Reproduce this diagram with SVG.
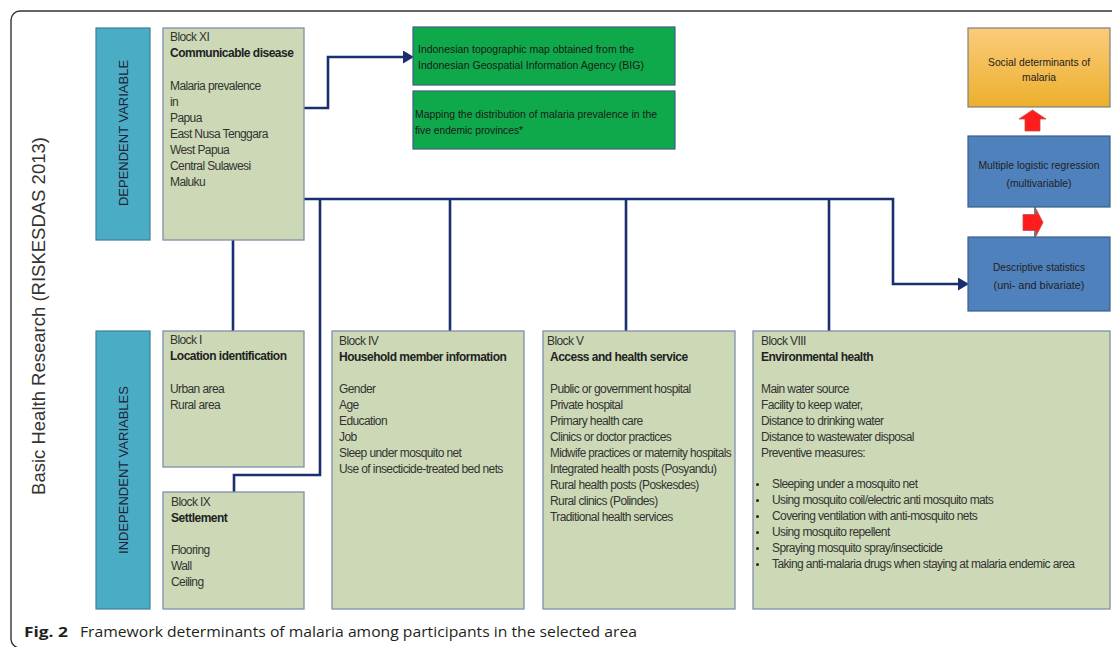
<svg xmlns="http://www.w3.org/2000/svg" width="1112" height="647" viewBox="0 0 1112 647">
<style>
.frame{fill:#fff;stroke:#333;stroke-width:1.4}
.side{fill:#4BACC6;stroke:#3B7F98;stroke-width:1.2}
.blk{fill:#CDD9B6;stroke:#7F8FAA;stroke-width:1.3}
.grn{fill:#0FA84B;stroke:#3C5F86;stroke-width:1.2}
.blu{fill:#4F81BD;stroke:#3A5F8C;stroke-width:1.2}
.org{fill:url(#og);stroke:#7F7F7F;stroke-width:1.2}
.con{fill:none;stroke:#1A2F6E;stroke-width:2.6;stroke-linejoin:miter}
.t{font-family:"Liberation Sans",Arial,sans-serif;font-size:12px;fill:#333;letter-spacing:-0.6px}
.b{font-family:"Liberation Sans",Arial,sans-serif;font-size:12px;font-weight:bold;fill:#222;letter-spacing:-0.5px}
.g{font-family:"Liberation Sans",Arial,sans-serif;font-size:11.5px;fill:#1a1a1a}
.c{font-family:"Liberation Sans",Arial,sans-serif;font-size:11px;fill:#222;text-anchor:middle}
.v{font-family:"Liberation Sans",Arial,sans-serif;font-size:13px;fill:#1E2438;text-anchor:middle}
.red{fill:#FF1C1C;stroke:#C0504D;stroke-width:0.8}
</style>
<defs>
<linearGradient id="og" x1="0" y1="0" x2="0" y2="1">
<stop offset="0" stop-color="#FBCB7C"/>
<stop offset="1" stop-color="#ECB02C"/>
</linearGradient>
<marker id="ah" viewBox="0 0 11 13" refX="2" refY="6.5" markerWidth="11" markerHeight="13" markerUnits="userSpaceOnUse" orient="auto">
<path d="M0,0 L11,6.5 L0,13 z" fill="#1A2F6E"/>
</marker>
</defs>

<rect class="frame" x="11" y="11" width="1130" height="637" rx="9"/>

<text x="45" y="316" transform="rotate(-90 45 316)" style="font-family:'Liberation Sans',Arial,sans-serif;font-size:18.5px;fill:#333;text-anchor:middle">Basic Health Research (RISKESDAS 2013)</text>

<g id="connectors">
<path class="con" d="M304,108 H328 V57 H405" marker-end="url(#ah)"/>
<path class="con" d="M304,199 H893 V284 H960" marker-end="url(#ah)"/>
<path class="con" d="M233,240 V331"/>
<path class="con" d="M320,199 V475 H234 V492"/>
<path class="con" d="M450,199 V331"/>
<path class="con" d="M626,199 V331"/>
<path class="con" d="M829,199 V331"/>
<path d="M1035,207 V237" fill="none" stroke="#7A7A7A" stroke-width="2"/>
</g>

<g id="dependent-variable">
<rect class="side" x="96" y="28" width="54" height="212"/>
<text class="v" x="128" y="133" transform="rotate(-90 128 133)">DEPENDENT VARIABLE</text>
</g>

<g id="independent-variables">
<rect class="side" x="96" y="331" width="54" height="278"/>
<text class="v" x="128" y="470" transform="rotate(-90 128 470)">INDEPENDENT VARIABLES</text>
</g>

<g id="block-xi">
<rect class="blk" x="163" y="28" width="141" height="212"/>
<text class="t" x="170" y="41">Block XI</text>
<text class="b" x="170" y="57">Communicable disease</text>
<text class="t" x="170" y="90">Malaria prevalence</text>
<text class="t" x="170" y="106">in</text>
<text class="t" x="170" y="122">Papua</text>
<text class="t" x="170" y="138">East Nusa Tenggara</text>
<text class="t" x="170" y="154">West Papua</text>
<text class="t" x="170" y="170">Central Sulawesi</text>
<text class="t" x="170" y="186">Maluku</text>
</g>

<g id="block-i">
<rect class="blk" x="163" y="331" width="141" height="136"/>
<text class="t" x="170" y="344">Block I</text>
<text class="b" x="170" y="360">Location identification</text>
<text class="t" x="170" y="393">Urban area</text>
<text class="t" x="170" y="409">Rural area</text>
</g>

<g id="block-ix">
<rect class="blk" x="163" y="492" width="141" height="117"/>
<text class="t" x="171" y="506">Block IX</text>
<text class="b" x="171" y="522">Settlement</text>
<text class="t" x="171" y="554">Flooring</text>
<text class="t" x="171" y="570">Wall</text>
<text class="t" x="171" y="586">Ceiling</text>
</g>

<g id="block-iv">
<rect class="blk" x="332" y="331" width="192" height="278"/>
<text class="t" x="339" y="345">Block IV</text>
<text class="b" x="339" y="361">Household member information</text>
<text class="t" x="339" y="393">Gender</text>
<text class="t" x="339" y="409">Age</text>
<text class="t" x="339" y="425">Education</text>
<text class="t" x="339" y="441">Job</text>
<text class="t" x="339" y="457">Sleep under mosquito net</text>
<text class="t" x="339" y="473">Use of insecticide-treated bed nets</text>
</g>

<g id="block-v">
<rect class="blk" x="543" y="331" width="192" height="278"/>
<text class="t" x="547" y="345">Block V</text>
<text class="b" x="550" y="361">Access and health service</text>
<text class="t" x="550" y="393">Public or government hospital</text>
<text class="t" x="550" y="409">Private hospital</text>
<text class="t" x="550" y="425">Primary health care</text>
<text class="t" x="550" y="441">Clinics or doctor practices</text>
<text class="t" x="550" y="457" textLength="181" lengthAdjust="spacingAndGlyphs">Midwife practices or maternity hospitals</text>
<text class="t" x="550" y="473">Integrated health posts (Posyandu)</text>
<text class="t" x="550" y="489">Rural health posts (Poskesdes)</text>
<text class="t" x="550" y="505">Rural clinics (Polindes)</text>
<text class="t" x="550" y="521">Traditional health services</text>
</g>

<g id="block-viii">
<rect class="blk" x="753" y="331" width="357" height="278"/>
<text class="t" x="761" y="345">Block VIII</text>
<text class="b" x="761" y="361">Environmental health</text>
<text class="t" x="761" y="393">Main water source</text>
<text class="t" x="761" y="409">Facility to keep water,</text>
<text class="t" x="761" y="425">Distance to drinking water</text>
<text class="t" x="761" y="441">Distance to wastewater disposal</text>
<text class="t" x="761" y="457">Preventive measures:</text>
<g fill="#222">
<circle cx="757.5" cy="484.5" r="1.5"/>
<circle cx="757.5" cy="500.5" r="1.5"/>
<circle cx="757.5" cy="516.5" r="1.5"/>
<circle cx="757.5" cy="532.5" r="1.5"/>
<circle cx="757.5" cy="548.5" r="1.5"/>
<circle cx="757.5" cy="564.5" r="1.5"/>
</g>
<text class="t" x="772" y="488">Sleeping under a mosquito net</text>
<text class="t" x="772" y="504">Using mosquito coil/electric anti mosquito mats</text>
<text class="t" x="772" y="520">Covering ventilation with anti-mosquito nets</text>
<text class="t" x="772" y="536">Using mosquito repellent</text>
<text class="t" x="772" y="552">Spraying mosquito spray/insecticide</text>
<text class="t" x="772" y="568">Taking anti-malaria drugs when staying at malaria endemic area</text>
</g>

<g id="topographic-map">
<rect class="grn" x="413" y="27" width="262" height="58"/>
<text class="g" x="418" y="53" textLength="216" lengthAdjust="spacingAndGlyphs">Indonesian topographic map obtained from the</text>
<text class="g" x="418" y="69" textLength="226" lengthAdjust="spacingAndGlyphs">Indonesian Geospatial Information Agency (BIG)</text>
</g>

<g id="mapping-distribution">
<rect class="grn" x="413" y="91" width="262" height="58"/>
<text class="g" x="415" y="118" textLength="242" lengthAdjust="spacingAndGlyphs">Mapping the distribution of malaria prevalence in the</text>
<text class="g" x="415" y="134" textLength="108" lengthAdjust="spacingAndGlyphs">five endemic provinces*</text>
</g>

<g id="social-determinants">
<rect class="org" x="968" y="28" width="142" height="79"/>
<text class="c" x="1039" y="66" textLength="102" lengthAdjust="spacingAndGlyphs">Social determinants of</text>
<text class="c" x="1039" y="81" textLength="34" lengthAdjust="spacingAndGlyphs">malaria</text>
</g>

<g id="multiple-logistic-regression">
<rect class="blu" x="968" y="136" width="142" height="71"/>
<text class="c" x="1039" y="169" textLength="121" lengthAdjust="spacingAndGlyphs">Multiple logistic regression</text>
<text class="c" x="1039" y="187" textLength="65" lengthAdjust="spacingAndGlyphs">(multivariable)</text>
</g>

<g id="descriptive-statistics">
<rect class="blu" x="968" y="237" width="142" height="74"/>
<text class="c" x="1039" y="271" textLength="92" lengthAdjust="spacingAndGlyphs">Descriptive statistics</text>
<text class="c" x="1039" y="289" textLength="91" lengthAdjust="spacingAndGlyphs">(uni- and bivariate)</text>
</g>

<g id="red-arrows">
<polygon class="red" points="1032.5,110 1046,119 1040,119 1040,131 1025,131 1025,119 1019,119"/>
<polygon class="red" points="1023,214.5 1036,214.5 1036,209 1043,222.5 1036,236 1036,230.5 1023,230.5"/>
</g>

<g id="caption">
<text x="24" y="637" textLength="44" lengthAdjust="spacingAndGlyphs" style="font-family:'Open Sans','Noto Sans',sans-serif;font-size:14px;font-weight:bold;fill:#231F20">Fig. 2</text>
<text x="80" y="637" textLength="557" lengthAdjust="spacingAndGlyphs" style="font-family:'Open Sans','Noto Sans',sans-serif;font-size:14px;fill:#231F20">Framework determinants of malaria among participants in the selected area</text>
</g>
</svg>
